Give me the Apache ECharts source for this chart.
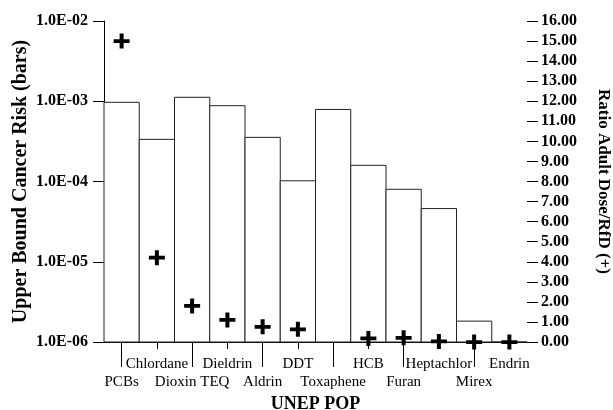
<!DOCTYPE html>
<html>
<head>
<meta charset="utf-8">
<script src="https://cdn.jsdelivr.net/npm/echarts@6/dist/echarts.min.js"></script>
<style>
  html, body { margin: 0; padding: 0; background: #fff; }
  #chart { width: 613px; height: 410px; }
</style>
</head>
<body>
<div id="chart"></div>
<script>
// UNEP POPs: cancer risk (bars, log axis) and dose/RfD ratio (+, right axis)
const categories = ['PCBs', 'Chlordane', 'Dioxin TEQ', 'Dieldrin', 'Aldrin', 'DDT',
    'Toxaphene', 'HCB', 'Furan', 'Heptachlor', 'Mirex', 'Endrin'];
const cancerRisk = [9.7e-4, 3.35e-4, 1.12e-3, 8.8e-4, 3.55e-4, 1.02e-4,
    7.9e-4, 1.59e-4, 8.0e-5, 4.6e-5, 1.82e-6, 1.0e-6];
const doseRatio = [15.0, 4.2, 1.8, 1.1, 0.76, 0.63,
    null, 0.18, 0.21, 0.03, 0.0, 0.0];

const serif = '"Liberation Serif", "DejaVu Serif", serif';
const plus = 'path://M6,0H10V6H16V10H10V16H6V10H0V6H6Z';
const riskMin = 1e-6;

const chart = echarts.init(document.getElementById('chart'));

const fmtExp = (v) => {
    const e = Math.round(Math.log10(v));
    const s = e < 0 ? '-' : '+';
    const a = Math.abs(e);
    return '1.0E' + s + (a < 10 ? '0' + a : a);
};

// bars drawn as rects so they grow up from the bottom of the log axis
const renderBar = (params, api) => {
    const top = api.coord([api.value(0), api.value(1)]);
    const base = api.coord([api.value(0), riskMin]);
    const w = api.size([1, 0])[0];
    return {
        type: 'rect',
        shape: { x: top[0] - w / 2, y: top[1], width: w, height: base[1] - top[1] },
        style: { fill: '#fff', stroke: '#222', lineWidth: 1 }
    };
};

const option = {
    backgroundColor: '#fff',
    animation: false,
    grid: { left: 104, right: 86, top: 21, bottom: 68, outerBoundsMode: 'none', containLabel: false },
    xAxis: [{
        type: 'category',
        data: categories,
        position: 'bottom',
        axisLine: { show: true, lineStyle: { color: '#000', width: 1 } },
        axisTick: {
            show: true,
            alignWithLabel: true,
            length: 7,
            interval: (i) => i % 2 === 1,
            lineStyle: { color: '#000' }
        },
        axisLabel: {
            interval: (i) => i % 2 === 1,
            margin: 15,
            fontFamily: serif,
            fontSize: 15,
            color: '#000'
        },
        name: 'UNEP POP',
        nameLocation: 'middle',
        nameGap: 53,
        nameTextStyle: { fontFamily: serif, fontSize: 18, fontWeight: 'bold', color: '#000' }
    }, {
        type: 'category',
        data: categories,
        position: 'bottom',
        offset: 0,
        axisLine: { show: false },
        axisTick: {
            show: true,
            alignWithLabel: true,
            length: 25,
            interval: (i) => i % 2 === 0,
            lineStyle: { color: '#000' }
        },
        axisLabel: {
            interval: (i) => i % 2 === 0,
            margin: 33,
            fontFamily: serif,
            fontSize: 15,
            color: '#000'
        }
    }],
    yAxis: [{
        type: 'log',
        logBase: 10,
        min: riskMin,
        max: 1e-2,
        position: 'left',
        axisLine: { show: true, lineStyle: { color: '#000' } },
        axisTick: { show: true, length: 11, lineStyle: { color: '#000' } },
        splitLine: { show: false },
        axisLabel: {
            formatter: fmtExp,
            fontFamily: serif,
            fontSize: 16,
            fontWeight: 'bold',
            color: '#000',
            margin: 16
        },
        name: 'Upper Bound Cancer Risk (bars)',
        nameLocation: 'middle',
        nameRotate: 90,
        nameGap: 73,
        nameMoveOverlap: false,
        nameTextStyle: { fontFamily: serif, fontSize: 20, fontWeight: 'bold', color: '#000' }
    }, {
        type: 'value',
        min: 0,
        max: 16,
        interval: 1,
        position: 'right',
        axisLine: { show: false },
        axisTick: { show: true, length: 11, lineStyle: { color: '#000' } },
        splitLine: { show: false },
        axisLabel: {
            formatter: (v) => v.toFixed(2),
            fontFamily: serif,
            fontSize: 16,
            fontWeight: 'bold',
            color: '#000',
            margin: 14
        },
        name: 'Ratio Adult Dose/RfD (+)',
        nameLocation: 'middle',
        nameRotate: -90,
        nameGap: 68,
        nameMoveOverlap: false,
        nameTextStyle: { fontFamily: serif, fontSize: 17, fontWeight: 'bold', color: '#000' }
    }],
    series: [{
        type: 'custom',
        xAxisIndex: 0,
        yAxisIndex: 0,
        renderItem: renderBar,
        encode: { x: 0, y: 1 },
        data: cancerRisk.map((v, i) => [i, v]),
        z: 1
    }, {
        type: 'scatter',
        xAxisIndex: 0,
        yAxisIndex: 1,
        data: doseRatio,
        symbol: plus,
        symbolSize: [16, 15],
        itemStyle: { color: '#000', opacity: 1 },
        z: 3
    }]
};

chart.setOption(option);
</script>
</body>
</html>
